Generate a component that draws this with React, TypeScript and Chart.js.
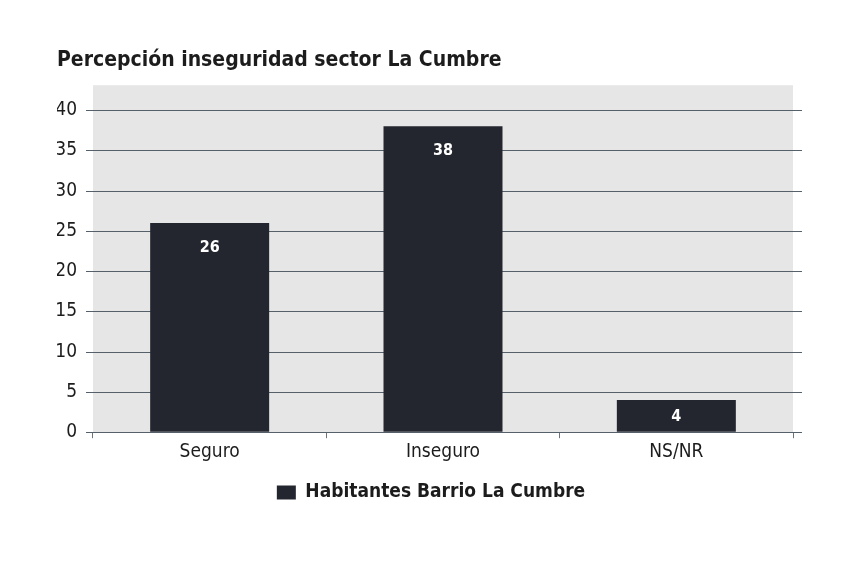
import React, { useEffect, useRef } from "react";
import { Chart, registerables } from "chart.js";

Chart.register(...registerables);

const categories = ["Seguro", "Inseguro", "NS/NR"];
const values = [26, 38, 4];
const seriesLabel = "Habitantes Barrio La Cumbre";
const titleText = "Percepción inseguridad sector La Cumbre";
const yMin = 0;
const yMax = 40;
const yStep = 5;

const FONT = "'DejaVu Sans Condensed', sans-serif";
const BAR = "#23262f";
const TEXT = "#1c1c1c";
const GRID = "#56606a";
const BG = "#e6e6e6";

const decorPlugin = {
  id: "decor",
  beforeDatasetsDraw(chart: any) {
    const { ctx, chartArea } = chart;
    const y = chart.scales.y;
    ctx.save();
    ctx.fillStyle = BG;
    ctx.fillRect(chartArea.left, chartArea.top - 25, chartArea.right - chartArea.left, chartArea.bottom - chartArea.top + 25);
    ctx.strokeStyle = GRID;
    ctx.lineWidth = 1;
    for (const t of y.ticks) {
      const py = Math.round(y.getPixelForValue(t.value)) + 0.5;
      ctx.beginPath();
      ctx.moveTo(chartArea.left - 7, py);
      ctx.lineTo(chartArea.right + 9, py);
      ctx.stroke();
    }
    ctx.restore();
  },
  afterDatasetsDraw(chart: any) {
    const { ctx } = chart;
    const meta = chart.getDatasetMeta(0);
    ctx.save();
    ctx.fillStyle = "#ffffff";
    ctx.font = `bold 16px ${FONT}`;
    ctx.textAlign = "center";
    ctx.textBaseline = "middle";
    meta.data.forEach((bar: any, i: number) => {
      const top = bar.y;
      const base = bar.base;
      const cy = Math.min(top + 25, (top + base) / 2 + 1);
      ctx.fillText(String(values[i]), bar.x, cy);
    });
    ctx.restore();
  },
  afterLayout(chart: any) {
    const lg = chart.legend;
    if (lg) {
      lg.left += 6;
      lg.right += 6;
    }
  },
};

export default function App() {
  const ref = useRef<HTMLCanvasElement | null>(null);
  useEffect(() => {
    if (!ref.current) return;
    const chart = new Chart(ref.current, {
      type: "bar",
      data: {
        labels: categories,
        datasets: [
          {
            label: seriesLabel,
            data: values,
            backgroundColor: BAR,
            borderWidth: 0,
            categoryPercentage: 1,
            barPercentage: 0.51,
          },
        ],
      },
      options: {
        responsive: false,
        animation: false,
        layout: { padding: { left: 57, right: 72, top: 0, bottom: 72 } },
        plugins: {
          title: {
            display: true,
            text: titleText,
            align: "start",
            color: TEXT,
            font: { family: FONT, size: 21, weight: "bold" },
            padding: { top: 48, bottom: 37 },
          },
          legend: {
            display: true,
            position: "bottom",
            labels: {
              color: TEXT,
              font: { family: FONT, size: 19, weight: "bold" },
              boxWidth: 19,
              boxHeight: 14,
              padding: 18,
            },
          },
          tooltip: { enabled: false },
        },
        scales: {
          x: {
            offset: true,
            grid: {
              display: true,
              offset: true,
              drawOnChartArea: false,
              drawTicks: true,
              tickLength: 6,
              color: "#6b737b",
            },
            border: { display: false },
            ticks: { color: TEXT, font: { family: FONT, size: 19 }, padding: 2 },
          },
          y: {
            min: yMin,
            max: yMax,
            ticks: { stepSize: yStep, color: TEXT, font: { family: FONT, size: 19 }, padding: 16 },
            grid: { display: true, drawOnChartArea: false, drawTicks: false },
            border: { display: false },
            afterFit: (s: any) => {
              s.width = 36;
            },
          },
        },
      },
      plugins: [decorPlugin],
    });
    return () => chart.destroy();
  }, []);
  return (
    <div style={{ position: "fixed", left: 0, top: 0, width: 865, height: 584, background: "#fff" }}>
      <canvas ref={ref} width={865} height={584} />
    </div>
  );
}
